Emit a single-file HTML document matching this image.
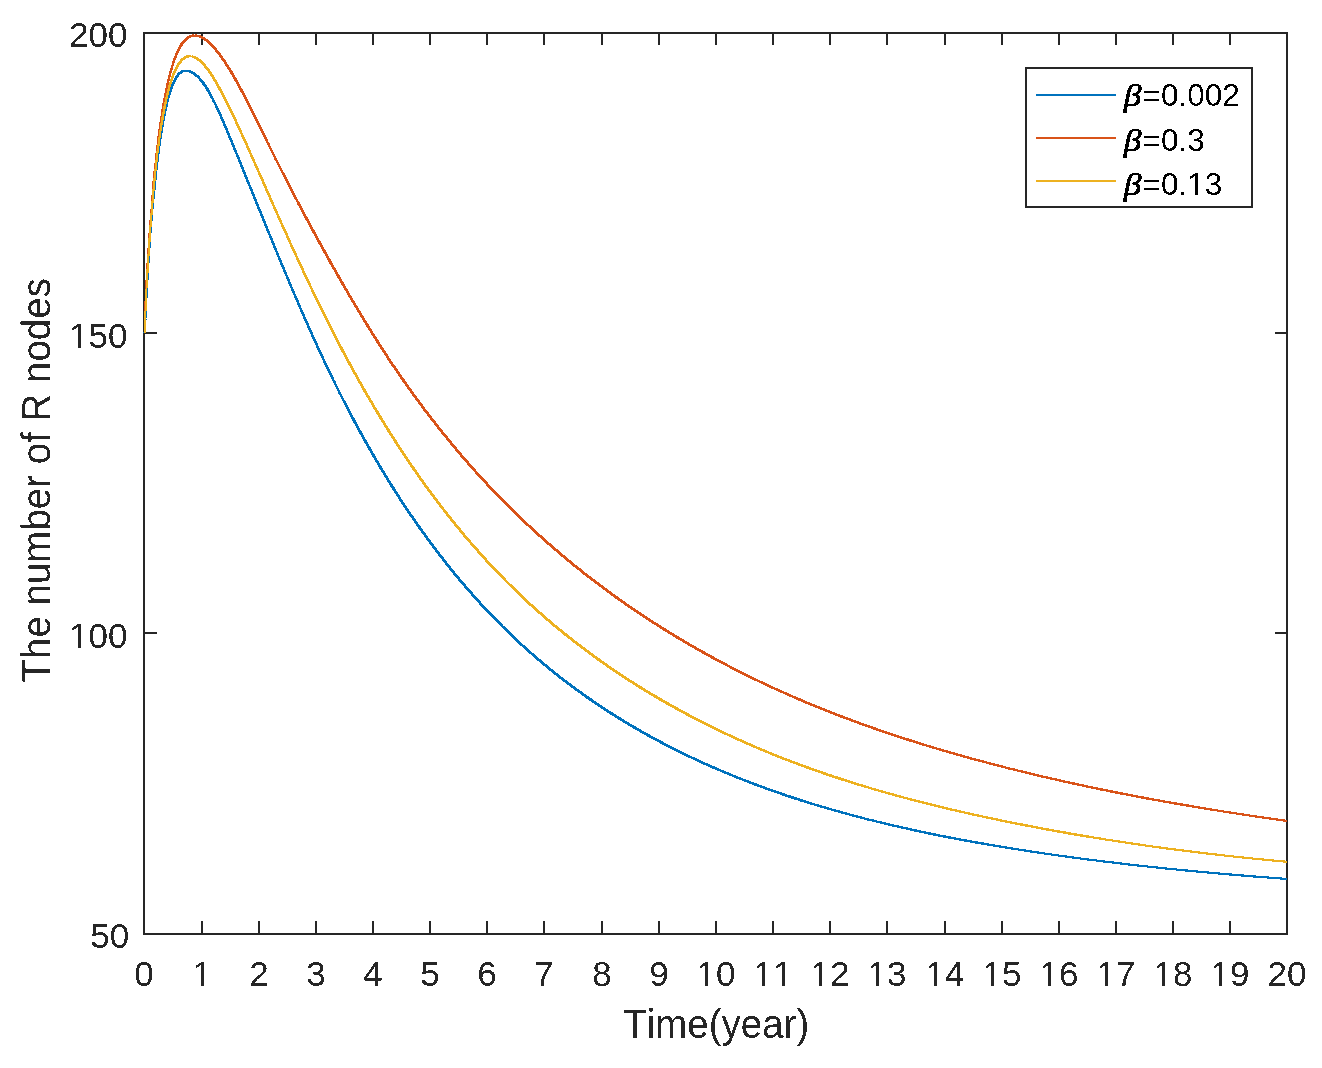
<!DOCTYPE html>
<html><head><meta charset="utf-8"><style>
html,body{margin:0;padding:0;background:#fff;}
body{width:1322px;height:1068px;overflow:hidden;}
svg{display:block;will-change:transform;}
text{font-family:"Liberation Sans",sans-serif;font-kerning:none;font-feature-settings:"kern" 0;}
</style></head><body>
<svg width="1322" height="1068" viewBox="0 0 1322 1068">
<rect x="0" y="0" width="1322" height="1068" fill="#fff"/>

<g fill="#262626" shape-rendering="crispEdges">
<rect x="143" y="32" width="1145" height="2"/>
<rect x="143" y="933" width="1145" height="2"/>
<rect x="143" y="32" width="2" height="903"/>
<rect x="1286" y="32" width="2" height="903"/>
<rect x="201" y="921" width="2" height="13"/>
<rect x="201" y="34" width="2" height="11"/>
<rect x="258" y="921" width="2" height="13"/>
<rect x="258" y="34" width="2" height="11"/>
<rect x="315" y="921" width="2" height="13"/>
<rect x="315" y="34" width="2" height="11"/>
<rect x="372" y="921" width="2" height="13"/>
<rect x="372" y="34" width="2" height="11"/>
<rect x="429" y="921" width="2" height="13"/>
<rect x="429" y="34" width="2" height="11"/>
<rect x="486" y="921" width="2" height="13"/>
<rect x="486" y="34" width="2" height="11"/>
<rect x="543" y="921" width="2" height="13"/>
<rect x="543" y="34" width="2" height="11"/>
<rect x="601" y="921" width="2" height="13"/>
<rect x="601" y="34" width="2" height="11"/>
<rect x="658" y="921" width="2" height="13"/>
<rect x="658" y="34" width="2" height="11"/>
<rect x="715" y="921" width="2" height="13"/>
<rect x="715" y="34" width="2" height="11"/>
<rect x="772" y="921" width="2" height="13"/>
<rect x="772" y="34" width="2" height="11"/>
<rect x="829" y="921" width="2" height="13"/>
<rect x="829" y="34" width="2" height="11"/>
<rect x="886" y="921" width="2" height="13"/>
<rect x="886" y="34" width="2" height="11"/>
<rect x="944" y="921" width="2" height="13"/>
<rect x="944" y="34" width="2" height="11"/>
<rect x="1001" y="921" width="2" height="13"/>
<rect x="1001" y="34" width="2" height="11"/>
<rect x="1058" y="921" width="2" height="13"/>
<rect x="1058" y="34" width="2" height="11"/>
<rect x="1115" y="921" width="2" height="13"/>
<rect x="1115" y="34" width="2" height="11"/>
<rect x="1172" y="921" width="2" height="13"/>
<rect x="1172" y="34" width="2" height="11"/>
<rect x="1229" y="921" width="2" height="13"/>
<rect x="1229" y="34" width="2" height="11"/>
<rect x="145" y="632" width="12" height="2"/>
<rect x="1275" y="632" width="11" height="2"/>
<rect x="145" y="332" width="12" height="2"/>
<rect x="1275" y="332" width="11" height="2"/>
</g>
<g fill="none" stroke-linejoin="round" stroke-linecap="butt" shape-rendering="crispEdges">
<g stroke="#0072BD">
<path stroke-width="2.0" d="M146.0,309.0 146.0,307.8 146.1,306.6 146.1,305.4 146.2,304.2 146.3,303.0 146.3,301.8 146.4,300.6 146.4,299.4 146.5,298.2 146.5,297.0 146.6,295.8 146.6,294.6 146.7,293.4 146.7,292.2 146.8,291.0 146.9,289.8 146.9,288.6M186.5,70.7 187.7,70.8"/>
<path stroke-width="2.2" d="M144.5,333.0 144.6,331.8 144.7,330.6 144.7,329.4 144.8,328.2 144.9,327.0 145.0,325.8 145.1,324.6 145.1,323.4 145.2,322.2 145.3,321.0 145.4,319.8 145.4,318.6 145.5,317.4 145.6,316.2 145.6,315.0 145.7,313.8 145.8,312.6 145.8,311.4 145.9,310.2 146.0,309.0M146.9,288.6 147.0,287.4 147.0,286.2 147.1,285.0 147.2,283.8 147.2,282.6 147.3,281.4 147.4,280.2 147.4,279.0 147.5,277.8 147.6,276.6 147.7,275.4 147.7,274.2 147.8,273.0 147.9,271.8 147.9,270.6 148.0,269.4 148.1,268.2 148.2,267.0 148.2,265.8 148.3,264.6 148.4,263.4 148.5,262.2 148.5,261.0 148.6,259.8 148.7,258.6 148.8,257.4 148.9,256.2 148.9,255.0 149.0,253.9 149.1,252.7 149.2,251.5 149.2,250.3 149.3,249.1 149.4,247.9 149.5,246.7 149.6,245.5 149.7,244.3 149.7,243.1 149.8,241.9 149.9,240.7 150.0,239.5 150.1,238.3 150.2,237.1 150.2,235.9 150.3,234.7 150.4,233.5 150.5,232.3 150.6,231.1 150.7,229.9 150.8,228.7 150.9,227.5 151.0,226.3 151.1,225.1 151.2,223.9 151.3,222.7 151.4,221.5 151.5,220.3 151.5,219.1 151.6,217.9 151.7,216.7 151.8,215.5 151.9,214.3 152.1,213.1 152.2,211.9 152.3,210.7 152.4,209.5 152.5,208.3 152.6,207.1 152.7,205.9 152.8,204.7 152.9,203.6 153.0,202.4 153.2,201.2 153.3,200.0 153.4,198.8 153.6,197.6 153.7,196.4 153.9,195.2 154.0,194.0 154.2,192.8 154.3,191.6 154.4,190.4 154.6,189.2 154.7,188.0 154.8,186.8 154.9,185.6 155.0,184.4 155.1,183.3 155.2,182.1 155.3,180.9 155.4,179.7 155.6,178.5 155.7,177.3 155.8,176.1 155.9,174.9 156.1,173.7 156.2,172.5 156.3,171.3 156.4,170.1 156.6,168.9 156.7,167.7 156.8,166.5 157.0,165.3 157.1,164.1 157.3,162.9 157.4,161.8 157.6,160.6 157.7,159.4 157.9,158.2 158.0,157.0 158.2,155.8 158.3,154.6 158.5,153.4 158.6,152.2 158.8,151.0 158.9,149.8 159.1,148.6 159.3,147.5 159.4,146.3 159.6,145.1 159.8,143.9 159.9,142.7 160.1,141.5 160.3,140.3 160.4,139.1 160.6,137.9 160.8,136.8 161.0,135.6 161.2,134.4 161.3,133.2 161.5,132.0 161.7,130.8 161.9,129.6 162.1,128.5 162.3,127.3M185.3,70.7 186.5,70.7M1001.7,846.8 1002.9,847.0 1004.1,847.2 1005.3,847.4 1006.5,847.6 1007.6,847.8 1008.8,848.0 1010.0,848.2 1011.2,848.4 1012.4,848.6 1013.6,848.8 1014.8,849.0 1015.9,849.1 1017.1,849.3 1018.3,849.5 1019.5,849.7 1020.7,849.9 1021.9,850.1 1023.1,850.3 1024.2,850.4 1025.4,850.6 1026.6,850.8 1027.8,851.0 1029.0,851.2 1030.2,851.4 1031.4,851.5 1032.6,851.7 1033.7,851.9 1034.9,852.1 1036.1,852.3 1037.3,852.4 1038.5,852.6 1039.7,852.8 1040.9,853.0 1042.1,853.1 1043.3,853.3 1044.4,853.5 1045.6,853.7 1046.8,853.8 1048.0,854.0 1049.2,854.2 1050.4,854.3 1051.6,854.5 1052.8,854.7 1054.0,854.9 1055.1,855.0 1056.3,855.2 1057.5,855.4 1058.7,855.5 1059.9,855.7 1061.1,855.9 1062.3,856.0 1063.5,856.2 1064.7,856.4 1065.8,856.5 1067.0,856.7 1068.2,856.8 1069.4,857.0 1070.6,857.2 1071.8,857.3 1073.0,857.5 1074.2,857.7 1075.4,857.8 1076.6,858.0 1077.8,858.1 1078.9,858.3 1080.1,858.4 1081.3,858.6 1082.5,858.8 1083.7,858.9 1084.9,859.1 1086.1,859.2 1087.3,859.4 1088.5,859.5 1089.7,859.7 1090.9,859.8 1092.0,860.0 1093.2,860.1 1094.4,860.3 1095.6,860.4 1096.8,860.6 1098.0,860.7 1099.2,860.9 1100.4,861.0 1101.6,861.2 1102.8,861.3 1104.0,861.5 1105.2,861.6 1106.3,861.8 1107.5,861.9 1108.7,862.1 1109.9,862.2 1111.1,862.3 1112.3,862.5 1113.5,862.6 1114.7,862.8 1115.9,862.9 1117.1,863.1 1118.3,863.2 1119.5,863.3 1120.7,863.5 1121.9,863.6 1123.0,863.8 1124.2,863.9 1125.4,864.0 1126.6,864.2 1127.8,864.3 1129.0,864.5 1130.2,864.6 1131.4,864.7 1132.6,864.9 1133.8,865.0 1135.0,865.1 1136.2,865.3 1137.4,865.4 1138.6,865.5 1139.8,865.7 1141.0,865.8 1142.1,865.9 1143.3,866.1 1144.5,866.2 1145.7,866.3 1146.9,866.4 1148.1,866.6 1149.3,866.7 1150.5,866.8 1151.7,867.0 1152.9,867.1 1154.1,867.2 1155.3,867.3 1156.5,867.5 1157.7,867.6 1158.9,867.7 1160.1,867.8 1161.3,868.0 1162.5,868.1 1163.6,868.2 1164.8,868.3 1166.0,868.5 1167.2,868.6 1168.4,868.7 1169.6,868.8 1170.8,869.0 1172.0,869.1 1173.2,869.2 1174.4,869.3 1175.6,869.4 1176.8,869.6 1178.0,869.7 1179.2,869.8 1180.4,869.9 1181.6,870.0 1182.8,870.1 1184.0,870.3 1185.2,870.4 1186.4,870.5 1187.6,870.6 1188.7,870.7 1189.9,870.8 1191.1,871.0 1192.3,871.1 1193.5,871.2 1194.7,871.3 1195.9,871.4 1197.1,871.5 1198.3,871.6 1199.5,871.7 1200.7,871.9 1201.9,872.0 1203.1,872.1 1204.3,872.2 1205.5,872.3 1206.7,872.4 1207.9,872.5 1209.1,872.6 1210.3,872.7 1211.5,872.8 1212.7,872.9 1213.9,873.1 1215.1,873.2 1216.3,873.3 1217.5,873.4 1218.6,873.5 1219.8,873.6 1221.0,873.7 1222.2,873.8 1223.4,873.9 1224.6,874.0 1225.8,874.1 1227.0,874.2 1228.2,874.3 1229.4,874.4 1230.6,874.5 1231.8,874.6 1233.0,874.7 1234.2,874.8 1235.4,874.9 1236.6,875.0 1237.8,875.1 1239.0,875.2 1240.2,875.3 1241.4,875.4 1242.6,875.5 1243.8,875.6 1245.0,875.7 1246.2,875.8 1247.4,875.9 1248.6,876.0 1249.8,876.1 1251.0,876.2 1252.2,876.3 1253.4,876.4 1254.6,876.5 1255.8,876.6 1257.0,876.7 1258.2,876.8 1259.4,876.9 1260.5,877.0 1261.7,877.1 1262.9,877.1 1264.1,877.2 1265.3,877.3 1266.5,877.4 1267.7,877.5 1268.9,877.6 1270.1,877.7 1271.3,877.8 1272.5,877.9 1273.7,878.0 1274.9,878.1 1276.1,878.1 1277.3,878.2 1278.5,878.3 1279.7,878.4 1280.9,878.5 1282.1,878.6 1283.3,878.7 1284.5,878.8 1285.7,878.9 1286.9,878.9"/>
<path stroke-width="2.4" d="M162.3,127.3 162.5,126.1 162.7,124.9 162.9,123.7 163.1,122.5 163.3,121.3 163.5,120.2 163.7,119.0 164.0,117.8 164.2,116.6 164.4,115.4 164.6,114.3 164.9,113.1 165.1,111.9 165.4,110.7 165.6,109.6 165.9,108.4 166.1,107.2 166.4,106.0 166.7,104.9 166.9,103.7 167.2,102.5 167.5,101.4 167.8,100.2 168.1,99.0 168.4,97.9 168.7,96.7 169.0,95.6 169.4,94.4 169.7,93.3 170.1,92.1M184.1,70.9 185.3,70.7M187.7,70.8 188.8,71.0 190.0,71.4M812.1,803.7 813.2,804.1 814.4,804.4 815.5,804.8 816.7,805.1 817.8,805.5 819.0,805.8 820.1,806.2 821.3,806.5 822.4,806.9 823.6,807.2 824.7,807.5 825.9,807.9 827.1,808.2 828.2,808.6 829.4,808.9 830.5,809.2 831.7,809.6 832.8,809.9 834.0,810.2 835.1,810.5 836.3,810.9 837.4,811.2 838.6,811.5 839.8,811.8 840.9,812.2 842.1,812.5 843.2,812.8 844.4,813.1 845.5,813.4 846.7,813.8 847.9,814.1 849.0,814.4 850.2,814.7 851.3,815.0 852.5,815.3 853.7,815.6 854.8,815.9 856.0,816.3 857.2,816.6 858.3,816.9 859.5,817.2 860.6,817.5 861.8,817.8 863.0,818.1 864.1,818.4 865.3,818.7 866.5,819.0 867.6,819.3 868.8,819.6 869.9,819.9 871.1,820.1 872.3,820.4 873.4,820.7 874.6,821.0 875.8,821.3 876.9,821.6 878.1,821.9 879.3,822.2 880.4,822.5 881.6,822.7 882.8,823.0 883.9,823.3 885.1,823.6 886.3,823.9 887.4,824.1 888.6,824.4 889.8,824.7 891.0,825.0 892.1,825.2 893.3,825.5 894.5,825.8 895.6,826.1 896.8,826.3 898.0,826.6 899.1,826.9 900.3,827.1 901.5,827.4 902.7,827.7 903.8,827.9 905.0,828.2 906.2,828.4 907.4,828.7 908.5,829.0 909.7,829.2 910.9,829.5 912.0,829.7 913.2,830.0 914.4,830.3 915.6,830.5 916.7,830.8 917.9,831.0 919.1,831.3 920.3,831.5 921.4,831.8 922.6,832.0 923.8,832.3 925.0,832.5 926.1,832.8 927.3,833.0 928.5,833.3 929.7,833.5 930.8,833.7 932.0,834.0 933.2,834.2 934.4,834.5 935.6,834.7 936.7,834.9 937.9,835.2 939.1,835.4 940.3,835.7 941.4,835.9 942.6,836.1 943.8,836.4 945.0,836.6 946.2,836.8 947.3,837.1 948.5,837.3 949.7,837.5 950.9,837.7 952.0,838.0 953.2,838.2 954.4,838.4 955.6,838.6 956.8,838.9 957.9,839.1 959.1,839.3 960.3,839.5 961.5,839.8 962.7,840.0 963.9,840.2 965.0,840.4 966.2,840.6 967.4,840.9 968.6,841.1 969.8,841.3 970.9,841.5 972.1,841.7 973.3,841.9 974.5,842.1 975.7,842.4 976.9,842.6 978.0,842.8 979.2,843.0 980.4,843.2 981.6,843.4 982.8,843.6 983.9,843.8 985.1,844.0 986.3,844.2 987.5,844.4 988.7,844.6 989.9,844.8 991.0,845.0 992.2,845.2 993.4,845.4 994.6,845.6 995.8,845.8 997.0,846.0 998.2,846.2 999.3,846.4 1000.5,846.6 1001.7,846.8"/>
<path stroke-width="2.6" d="M170.1,92.1 170.4,91.0 170.8,89.8 171.2,88.7 171.6,87.6 172.0,86.4 172.5,85.3 172.9,84.2 173.4,83.1 173.9,82.0 174.4,80.9 174.9,79.8M182.9,71.2 184.1,70.9M190.0,71.4 191.1,71.9 192.2,72.4M212.0,97.6 212.6,98.6 213.1,99.7 213.6,100.8 214.2,101.9 214.7,102.9 215.2,104.0 215.8,105.1 216.3,106.2 216.8,107.3 217.3,108.4 217.8,109.4 218.3,110.5 218.8,111.6 219.3,112.7 219.8,113.8 220.3,114.9 220.8,116.0 221.2,117.1 221.7,118.2 222.2,119.3 222.7,120.4 223.2,121.5 223.6,122.6 224.1,123.7 224.6,124.8 225.1,125.9 225.5,127.0 226.0,128.1 226.5,129.3 226.9,130.4 227.4,131.5 227.9,132.6 228.3,133.7 228.8,134.8 229.2,135.9 229.7,137.0 230.2,138.1 230.6,139.2 231.1,140.3 231.5,141.5 232.0,142.6 232.5,143.7 232.9,144.8 233.4,145.9 233.8,147.0 234.3,148.1 234.7,149.2 235.2,150.3 235.6,151.5 236.1,152.6 236.6,153.7 237.0,154.8 237.5,155.9 237.9,157.0 238.4,158.1 238.8,159.2 239.3,160.4 239.7,161.5 240.2,162.6 240.6,163.7 241.1,164.8 241.5,165.9 242.0,167.0 242.5,168.1 242.9,169.2 243.4,170.4 243.8,171.5 244.3,172.6 244.7,173.7 245.2,174.8 245.6,175.9 246.1,177.0 246.5,178.1 247.0,179.3 247.4,180.4 247.9,181.5 248.3,182.6 248.8,183.7 249.2,184.8 249.7,185.9 250.1,187.1 250.6,188.2 251.1,189.3 251.5,190.4 252.0,191.5 252.4,192.6 252.9,193.7 253.3,194.8 253.8,196.0 254.2,197.1 254.7,198.2 255.1,199.3 255.6,200.4 256.0,201.5 256.5,202.6 256.9,203.7 257.4,204.9 257.8,206.0 258.3,207.1 258.7,208.2 259.2,209.3 259.7,210.4 260.1,211.5 260.6,212.6 261.0,213.8 261.5,214.9 261.9,216.0 262.4,217.1 262.8,218.2 263.3,219.3 263.7,220.4 264.2,221.5 264.6,222.7 265.1,223.8 265.6,224.9 266.0,226.0 266.5,227.1 266.9,228.2 267.4,229.3 267.8,230.4 268.3,231.5 268.7,232.7 269.2,233.8 269.7,234.9 270.1,236.0 270.6,237.1 271.0,238.2 271.5,239.3 271.9,240.4 272.4,241.5 272.8,242.7 273.3,243.8 273.8,244.9 274.2,246.0 274.7,247.1 275.1,248.2 275.6,249.3 276.0,250.4 276.5,251.5 277.0,252.7 277.4,253.8 277.9,254.9 278.3,256.0 278.8,257.1 279.3,258.2 279.7,259.3 280.2,260.4 280.6,261.5 281.1,262.6 281.6,263.7 282.0,264.9 282.5,266.0 282.9,267.1 283.4,268.2 283.9,269.3 284.3,270.4 284.8,271.5 285.3,272.6 285.7,273.7 286.2,274.8 286.7,275.9 287.1,277.0 287.6,278.2 288.1,279.3 288.5,280.4 289.0,281.5 289.5,282.6 289.9,283.7 290.4,284.8 290.9,285.9 291.3,287.0 291.8,288.1 292.3,289.2 292.7,290.3 293.2,291.4 293.7,292.5 294.1,293.6 294.6,294.7 295.1,295.9 295.6,297.0 296.0,298.1 296.5,299.2 297.0,300.3 297.5,301.4 297.9,302.5 298.4,303.6 298.9,304.7 299.4,305.8 299.8,306.9 300.3,308.0 300.8,309.1 301.3,310.2 301.8,311.3 302.2,312.4 302.7,313.5 303.2,314.6 303.7,315.7 304.2,316.8 304.6,317.9 305.1,319.0 305.6,320.1 306.1,321.2 306.6,322.3 307.1,323.4 307.5,324.5 308.0,325.6 308.5,326.7 309.0,327.8 309.5,328.9 310.0,330.0 310.5,331.1 311.0,332.2 311.5,333.3 312.0,334.4 312.4,335.5 312.9,336.6 313.4,337.6 313.9,338.7 314.4,339.8 314.9,340.9 315.4,342.0 315.9,343.1 316.4,344.2 316.9,345.3 317.4,346.4 317.9,347.5 318.4,348.6 318.9,349.7 319.4,350.8 319.9,351.8 320.4,352.9 320.9,354.0 321.4,355.1 322.0,356.2 322.5,357.3 323.0,358.4 323.5,359.5 324.0,360.6 324.5,361.6 325.0,362.7 325.5,363.8 326.0,364.9 326.6,366.0 327.1,367.1 327.6,368.2 328.1,369.2 328.6,370.3 329.1,371.4 329.7,372.5 330.2,373.6 330.7,374.7 331.2,375.7 331.8,376.8 332.3,377.9 332.8,379.0 333.3,380.1 333.9,381.1 334.4,382.2 334.9,383.3 335.5,384.4 336.0,385.4 336.5,386.5 337.1,387.6 337.6,388.7 338.1,389.7 338.7,390.8 339.2,391.9 339.7,393.0 340.3,394.0 340.8,395.1 341.4,396.2 341.9,397.3 342.4,398.3 343.0,399.4 343.5,400.5 344.1,401.5 344.6,402.6 345.2,403.7 345.7,404.7 346.3,405.8 346.8,406.9 347.4,407.9 347.9,409.0 348.5,410.1 349.1,411.1 349.6,412.2 350.2,413.3M664.2,743.9 665.3,744.5 666.3,745.0 667.4,745.6 668.5,746.2 669.5,746.7 670.6,747.2 671.7,747.8 672.7,748.3 673.8,748.9 674.9,749.4 676.0,750.0 677.0,750.5 678.1,751.0 679.2,751.6 680.3,752.1 681.3,752.6 682.4,753.2 683.5,753.7 684.6,754.2 685.7,754.7 686.7,755.2 687.8,755.8 688.9,756.3 690.0,756.8 691.1,757.3 692.2,757.8 693.2,758.3 694.3,758.8 695.4,759.4 696.5,759.9 697.6,760.4 698.7,760.9 699.8,761.4 700.9,761.9 702.0,762.4 703.1,762.9 704.2,763.4 705.3,763.9 706.4,764.3 707.4,764.8 708.5,765.3 709.6,765.8 710.7,766.3 711.8,766.8 712.9,767.3 714.0,767.7 715.1,768.2 716.2,768.7 717.4,769.2 718.5,769.6 719.6,770.1 720.7,770.6 721.8,771.1 722.9,771.5 724.0,772.0 725.1,772.5 726.2,772.9 727.3,773.4 728.4,773.8 729.5,774.3 730.6,774.8 731.8,775.2 732.9,775.7 734.0,776.1 735.1,776.6 736.2,777.0 737.3,777.5 738.4,777.9 739.6,778.4 740.7,778.8 741.8,779.2 742.9,779.7 744.0,780.1 745.1,780.6 746.3,781.0 747.4,781.4 748.5,781.9 749.6,782.3 750.7,782.7 751.9,783.1 753.0,783.6 754.1,784.0 755.2,784.4 756.4,784.8 757.5,785.3 758.6,785.7 759.7,786.1 760.9,786.5 762.0,786.9 763.1,787.3 764.3,787.7 765.4,788.2 766.5,788.6 767.6,789.0 768.8,789.4 769.9,789.8 771.0,790.2 772.2,790.6 773.3,791.0 774.4,791.4 775.6,791.8 776.7,792.2 777.8,792.6 779.0,793.0 780.1,793.3 781.2,793.7 782.4,794.1 783.5,794.5 784.7,794.9 785.8,795.3 786.9,795.7 788.1,796.0 789.2,796.4 790.4,796.8 791.5,797.2 792.6,797.6 793.8,797.9 794.9,798.3 796.1,798.7 797.2,799.0 798.3,799.4 799.5,799.8 800.6,800.2 801.8,800.5 802.9,800.9 804.1,801.2 805.2,801.6 806.4,802.0 807.5,802.3 808.7,802.7 809.8,803.0 810.9,803.4 812.1,803.7"/>
<path stroke-width="2.8" d="M174.9,79.8 175.5,78.8 176.1,77.8 176.8,76.7 177.5,75.8 178.2,74.8 179.0,73.9 179.9,73.1 180.8,72.4 181.9,71.7 182.9,71.2M192.2,72.4 193.2,73.0 194.2,73.7 195.2,74.4 196.1,75.2 197.0,76.0 197.9,76.8 198.7,77.6 199.5,78.5 200.3,79.4 201.1,80.3 201.9,81.3 202.6,82.2 203.3,83.2 204.0,84.2 204.7,85.1 205.4,86.1 206.0,87.1 206.7,88.2 207.3,89.2 207.9,90.2 208.5,91.2 209.1,92.3 209.7,93.3 210.3,94.4 210.9,95.4 211.4,96.5 212.0,97.6M350.2,413.3 350.7,414.3 351.3,415.4 351.8,416.5 352.4,417.5 353.0,418.6 353.5,419.6 354.1,420.7 354.7,421.8 355.2,422.8 355.8,423.9 356.4,424.9 356.9,426.0 357.5,427.0 358.1,428.1 358.7,429.2 359.2,430.2 359.8,431.3 360.4,432.3 361.0,433.4 361.6,434.4 362.1,435.5 362.7,436.5 363.3,437.6 363.9,438.6 364.5,439.7 365.1,440.7 365.6,441.8 366.2,442.8 366.8,443.9 367.4,444.9 368.0,446.0 368.6,447.0 369.2,448.0 369.8,449.1 370.4,450.1 371.0,451.2 371.6,452.2 372.2,453.3 372.8,454.3 373.4,455.3 374.0,456.4 374.6,457.4 375.2,458.5 375.8,459.5 376.4,460.5 377.0,461.6 377.6,462.6 378.2,463.6 378.8,464.7 379.5,465.7 380.1,466.7 380.7,467.8 381.3,468.8 381.9,469.8 382.5,470.8 383.2,471.9 383.8,472.9 384.4,473.9 385.0,475.0 385.7,476.0 386.3,477.0 386.9,478.0 387.5,479.1 388.2,480.1 388.8,481.1 389.4,482.1 390.1,483.1 390.7,484.2 391.3,485.2 392.0,486.2 392.6,487.2 393.3,488.2 393.9,489.2 394.6,490.3 395.2,491.3 395.8,492.3 396.5,493.3 397.1,494.3 397.8,495.3 398.4,496.3 399.1,497.3 399.7,498.3 400.4,499.4 401.1,500.4 401.7,501.4 402.4,502.4 403.0,503.4 403.7,504.4 404.4,505.4 405.0,506.4 405.7,507.4 406.4,508.4 407.0,509.4 407.7,510.4 408.4,511.4 409.0,512.4 409.7,513.4 410.4,514.4 411.1,515.3 411.7,516.3 412.4,517.3 413.1,518.3 413.8,519.3 414.5,520.3 415.1,521.3 415.8,522.3 416.5,523.3 417.2,524.2 417.9,525.2 418.6,526.2 419.3,527.2 420.0,528.2 420.7,529.1 421.4,530.1 422.1,531.1 422.8,532.1 423.5,533.1 424.2,534.0 424.9,535.0 425.6,536.0 426.3,537.0 427.0,537.9 427.7,538.9 428.4,539.9 429.1,540.8 429.8,541.8 430.5,542.8 431.3,543.7 432.0,544.7 432.7,545.7 433.4,546.6 434.1,547.6 434.9,548.5 435.6,549.5 436.3,550.4 437.0,551.4 437.8,552.4 438.5,553.3 439.2,554.3 440.0,555.2 440.7,556.2 441.4,557.1 442.2,558.1 442.9,559.0 443.6,560.0 444.4,560.9 445.1,561.9 445.9,562.8 446.6,563.7 447.4,564.7 448.1,565.6 448.9,566.6 449.6,567.5 450.4,568.4 451.1,569.4 451.9,570.3 452.6,571.2 453.4,572.2 454.1,573.1 454.9,574.0 455.7,574.9 456.4,575.9 457.2,576.8 458.0,577.7 458.7,578.6 459.5,579.6 460.3,580.5 461.1,581.4 461.8,582.3 462.6,583.2 463.4,584.2 464.2,585.1 464.9,586.0 465.7,586.9 466.5,587.8 467.3,588.7 468.1,589.6 468.9,590.5 469.7,591.4 470.5,592.3 471.3,593.2 472.0,594.1 472.8,595.0 473.6,595.9 474.4,596.8 475.2,597.7 476.0,598.6 476.8,599.5 477.7,600.4 478.5,601.3 479.3,602.2 480.1,603.1 480.9,604.0 481.7,604.8 482.5,605.7 483.3,606.6 484.1,607.5 485.0,608.4 485.8,609.2 486.6,610.1 487.4,611.0 488.3,611.9 489.1,612.7 489.9,613.6 490.7,614.5 491.6,615.3 492.4,616.2 493.2,617.1 494.1,617.9 494.9,618.8 495.8,619.7 496.6,620.5 497.4,621.4 498.3,622.2 499.1,623.1 500.0,623.9 500.8,624.8 501.7,625.6 502.5,626.5 503.4,627.3 504.2,628.2 505.1,629.0 505.9,629.8 506.8,630.7 507.7,631.5 508.5,632.4 509.4,633.2 510.3,634.0 511.1,634.9 512.0,635.7 512.9,636.5 513.7,637.3 514.6,638.2 515.5,639.0 516.4,639.8 517.2,640.6 518.1,641.4 519.0,642.3 519.9,643.1 520.8,643.9 521.7,644.7 522.5,645.5 523.4,646.3 524.3,647.1 525.2,647.9 526.1,648.7 527.0,649.5 527.9,650.3 528.8,651.1 529.7,651.9 530.6,652.7 531.5,653.5 532.4,654.3 533.3,655.1 534.2,655.9 535.1,656.7 536.0,657.5 536.9,658.2 537.8,659.0 538.8,659.8 539.7,660.6 540.6,661.4 541.5,662.1 542.4,662.9 543.3,663.7 544.3,664.5 545.2,665.2 546.1,666.0 547.0,666.7 548.0,667.5 548.9,668.3 549.8,669.0 550.8,669.8 551.7,670.5 552.6,671.3 553.6,672.1 554.5,672.8 555.5,673.5 556.4,674.3 557.3,675.0 558.3,675.8 559.2,676.5 560.2,677.3 561.1,678.0 562.1,678.7 563.0,679.5 564.0,680.2 564.9,680.9 565.9,681.7 566.8,682.4 567.8,683.1 568.7,683.8 569.7,684.6 570.7,685.3 571.6,686.0 572.6,686.7 573.6,687.4 574.5,688.2 575.5,688.9 576.5,689.6 577.4,690.3 578.4,691.0 579.4,691.7 580.4,692.4 581.3,693.1 582.3,693.8 583.3,694.5 584.3,695.2 585.2,695.9 586.2,696.6 587.2,697.3 588.2,697.9 589.2,698.6 590.2,699.3 591.2,700.0 592.1,700.7 593.1,701.4 594.1,702.0 595.1,702.7 596.1,703.4 597.1,704.1 598.1,704.7 599.1,705.4 600.1,706.1 601.1,706.7 602.1,707.4 603.1,708.1 604.1,708.7 605.1,709.4 606.1,710.0 607.1,710.7 608.1,711.3 609.2,712.0 610.2,712.6 611.2,713.3 612.2,713.9 613.2,714.6 614.2,715.2 615.2,715.9 616.3,716.5 617.3,717.1 618.3,717.8 619.3,718.4 620.3,719.0 621.4,719.7 622.4,720.3 623.4,720.9 624.4,721.5 625.5,722.2 626.5,722.8 627.5,723.4 628.5,724.0 629.6,724.6 630.6,725.2 631.6,725.9 632.7,726.5 633.7,727.1 634.8,727.7 635.8,728.3 636.8,728.9 637.9,729.5 638.9,730.1 640.0,730.7 641.0,731.3 642.0,731.9 643.1,732.5 644.1,733.1 645.2,733.6 646.2,734.2 647.3,734.8 648.3,735.4 649.4,736.0 650.4,736.6 651.5,737.1 652.5,737.7 653.6,738.3 654.6,738.9 655.7,739.4 656.8,740.0 657.8,740.6 658.9,741.1 659.9,741.7 661.0,742.3 662.1,742.8 663.1,743.4 664.2,743.9"/>
</g>
<g stroke="#D95319">
<path stroke-width="2.0" d="M144.5,333.0 144.5,331.8 144.5,330.6 144.6,329.4 144.6,328.2 144.6,327.0 144.6,325.8 144.7,324.6 144.7,323.4 144.7,322.2 144.8,321.0 144.8,319.8 144.8,318.6 144.9,317.4 144.9,316.2 144.9,315.0 145.0,313.8 145.0,312.6 145.1,311.4 145.1,310.2 145.1,309.0 145.2,307.8 145.2,306.6 145.3,305.4 145.3,304.2 145.4,303.0 145.4,301.8 145.5,300.6 145.6,299.4 145.6,298.2 145.7,297.0 145.7,295.8 145.8,294.6 145.9,293.4 145.9,292.2M152.3,200.0 152.3,198.8 152.4,197.6 152.4,196.4 152.5,195.2 152.5,194.0 152.6,192.8M194.2,35.5 195.4,35.5"/>
<path stroke-width="2.2" d="M145.9,292.2 146.0,291.0 146.0,289.8 146.1,288.6 146.2,287.4 146.2,286.2 146.3,285.0 146.4,283.8 146.4,282.6 146.5,281.4 146.6,280.2 146.6,279.0 146.7,277.8 146.8,276.6 146.9,275.4 146.9,274.2 147.0,273.0 147.1,271.8 147.1,270.6 147.2,269.4 147.3,268.2 147.4,267.0 147.4,265.8 147.5,264.6 147.6,263.4 147.7,262.2 147.7,261.0 147.8,259.8 147.9,258.6 148.0,257.4 148.0,256.2 148.1,255.0 148.2,253.8 148.3,252.6 148.4,251.4 148.4,250.2 148.5,249.0 148.6,247.8 148.7,246.6 148.7,245.4 148.8,244.2 148.9,243.1 149.0,241.9 149.1,240.7 149.2,239.5 149.2,238.3 149.3,237.1 149.4,235.9 149.5,234.7 149.6,233.5 149.7,232.3 149.8,231.1 149.9,229.9 150.0,228.7 150.0,227.5 150.1,226.3 150.2,225.1 150.3,223.9 150.4,222.7 150.5,221.5 150.6,220.3 150.7,219.1 150.8,217.9 150.9,216.7 151.0,215.5 151.1,214.3 151.2,213.1 151.3,211.9 151.4,210.7 151.6,209.5 151.7,208.3 151.8,207.1 151.9,205.9 152.0,204.7 152.1,203.5 152.1,202.4 152.2,201.2 152.3,200.0M152.6,192.8 152.7,191.6 152.8,190.4 152.9,189.2 153.0,188.0 153.1,186.8 153.2,185.6 153.3,184.4 153.4,183.2 153.5,182.0 153.7,180.8 153.8,179.6 153.9,178.4 154.0,177.2 154.1,176.0 154.3,174.8 154.4,173.6 154.5,172.4 154.6,171.2 154.8,170.0 154.9,168.8 155.0,167.7 155.2,166.5 155.3,165.3 155.4,164.1 155.6,162.9 155.7,161.7 155.8,160.5 155.9,159.3 156.1,158.1 156.2,156.9 156.3,155.7 156.5,154.5 156.6,153.3 156.7,152.1 156.9,150.9 157.0,149.7 157.1,148.6 157.3,147.4 157.4,146.2 157.6,145.0 157.7,143.8 157.8,142.6 158.0,141.4 158.1,140.2 158.3,139.0 158.4,137.8 158.6,136.6 158.8,135.4 158.9,134.3 159.1,133.1 159.2,131.9 159.4,130.7 159.6,129.5 159.7,128.3 159.9,127.1 160.1,125.9 160.2,124.7 160.4,123.6 160.6,122.4 160.8,121.2 160.9,120.0 161.1,118.8 161.3,117.6 161.5,116.4 161.7,115.2 161.9,114.1 162.1,112.9 162.3,111.7 162.5,110.5M193.0,35.6 194.2,35.5M195.4,35.5 196.6,35.6 197.8,35.9M1202.6,808.1 1203.8,808.3 1205.0,808.5 1206.2,808.7 1207.3,808.9 1208.5,809.1 1209.7,809.3 1210.9,809.5 1212.1,809.7 1213.3,809.9 1214.5,810.1 1215.6,810.3 1216.8,810.4 1218.0,810.6 1219.2,810.8 1220.4,811.0 1221.6,811.2 1222.8,811.4 1223.9,811.6 1225.1,811.8 1226.3,812.0 1227.5,812.1 1228.7,812.3 1229.9,812.5 1231.1,812.7 1232.2,812.9 1233.4,813.1 1234.6,813.2 1235.8,813.4 1237.0,813.6 1238.2,813.8 1239.4,814.0 1240.6,814.2 1241.7,814.3 1242.9,814.5 1244.1,814.7 1245.3,814.9 1246.5,815.1 1247.7,815.2 1248.9,815.4 1250.1,815.6 1251.2,815.8 1252.4,815.9 1253.6,816.1 1254.8,816.3 1256.0,816.5 1257.2,816.6 1258.4,816.8 1259.6,817.0 1260.7,817.2 1261.9,817.3 1263.1,817.5 1264.3,817.7 1265.5,817.9 1266.7,818.0 1267.9,818.2 1269.1,818.4 1270.3,818.5 1271.4,818.7 1272.6,818.9 1273.8,819.1 1275.0,819.2 1276.2,819.4 1277.4,819.6 1278.6,819.7 1279.8,819.9 1281.0,820.1 1282.1,820.2 1283.3,820.4 1284.5,820.6 1285.7,820.7 1286.9,820.9"/>
<path stroke-width="2.4" d="M162.5,110.5 162.7,109.3 162.9,108.1 163.1,107.0 163.3,105.8 163.5,104.6 163.7,103.4 163.9,102.2 164.1,101.0 164.3,99.9 164.6,98.7 164.8,97.5 165.0,96.3 165.3,95.1 165.5,94.0 165.7,92.8 166.0,91.6 166.2,90.4 166.5,89.3 166.7,88.1 167.0,86.9 167.2,85.7 167.5,84.6 167.7,83.4 168.0,82.2 168.3,81.1 168.6,79.9 168.8,78.7 169.1,77.6 169.4,76.4 169.7,75.2 170.0,74.1 170.3,72.9 170.6,71.7 171.0,70.6 171.3,69.4 171.6,68.3 172.0,67.1 172.3,66.0 172.7,64.8M191.8,35.9 193.0,35.6M197.8,35.9 198.9,36.2M924.1,744.8 925.3,745.1 926.4,745.5 927.6,745.8 928.7,746.2 929.9,746.5 931.0,746.9 932.2,747.2 933.3,747.5 934.5,747.9 935.6,748.2 936.8,748.6 937.9,748.9 939.1,749.3 940.2,749.6 941.4,749.9 942.5,750.3 943.7,750.6 944.8,751.0 946.0,751.3 947.1,751.6 948.3,752.0 949.4,752.3 950.6,752.6 951.7,753.0 952.9,753.3 954.1,753.6 955.2,754.0 956.4,754.3 957.5,754.6 958.7,754.9 959.8,755.3 961.0,755.6 962.1,755.9 963.3,756.2 964.5,756.6 965.6,756.9 966.8,757.2 967.9,757.5 969.1,757.8 970.2,758.2 971.4,758.5 972.6,758.8 973.7,759.1 974.9,759.4 976.0,759.7 977.2,760.1 978.3,760.4 979.5,760.7 980.7,761.0 981.8,761.3 983.0,761.6 984.1,761.9 985.3,762.2 986.5,762.5 987.6,762.9 988.8,763.2 990.0,763.5 991.1,763.8 992.3,764.1 993.4,764.4 994.6,764.7 995.8,765.0 996.9,765.3 998.1,765.6 999.3,765.9 1000.4,766.2 1001.6,766.5 1002.7,766.8 1003.9,767.1 1005.1,767.4 1006.2,767.7 1007.4,768.0 1008.6,768.3 1009.7,768.6 1010.9,768.8 1012.1,769.1 1013.2,769.4 1014.4,769.7 1015.6,770.0 1016.7,770.3 1017.9,770.6 1019.0,770.9 1020.2,771.2 1021.4,771.4 1022.5,771.7 1023.7,772.0 1024.9,772.3 1026.0,772.6 1027.2,772.9 1028.4,773.1 1029.6,773.4 1030.7,773.7 1031.9,774.0 1033.1,774.3 1034.2,774.5 1035.4,774.8 1036.6,775.1 1037.7,775.4 1038.9,775.7 1040.1,775.9 1041.2,776.2 1042.4,776.5 1043.6,776.8 1044.7,777.0 1045.9,777.3 1047.1,777.6 1048.3,777.8 1049.4,778.1 1050.6,778.4 1051.8,778.6 1052.9,778.9 1054.1,779.2 1055.3,779.4 1056.4,779.7 1057.6,780.0 1058.8,780.2 1060.0,780.5 1061.1,780.8 1062.3,781.0 1063.5,781.3 1064.6,781.6 1065.8,781.8 1067.0,782.1 1068.2,782.3 1069.3,782.6 1070.5,782.9 1071.7,783.1 1072.9,783.4 1074.0,783.6 1075.2,783.9 1076.4,784.1 1077.5,784.4 1078.7,784.6 1079.9,784.9 1081.1,785.2 1082.2,785.4 1083.4,785.7 1084.6,785.9 1085.8,786.2 1086.9,786.4 1088.1,786.7 1089.3,786.9 1090.5,787.2 1091.6,787.4 1092.8,787.6 1094.0,787.9 1095.2,788.1 1096.3,788.4 1097.5,788.6 1098.7,788.9 1099.9,789.1 1101.0,789.4 1102.2,789.6 1103.4,789.8 1104.6,790.1 1105.8,790.3 1106.9,790.6 1108.1,790.8 1109.3,791.0 1110.5,791.3 1111.6,791.5 1112.8,791.7 1114.0,792.0 1115.2,792.2 1116.3,792.5 1117.5,792.7 1118.7,792.9 1119.9,793.2 1121.1,793.4 1122.2,793.6 1123.4,793.9 1124.6,794.1 1125.8,794.3 1127.0,794.5 1128.1,794.8 1129.3,795.0 1130.5,795.2 1131.7,795.5 1132.8,795.7 1134.0,795.9 1135.2,796.1 1136.4,796.4 1137.6,796.6 1138.7,796.8 1139.9,797.0 1141.1,797.3 1142.3,797.5 1143.5,797.7 1144.6,797.9 1145.8,798.1 1147.0,798.4 1148.2,798.6 1149.4,798.8 1150.6,799.0 1151.7,799.2 1152.9,799.5 1154.1,799.7 1155.3,799.9 1156.5,800.1 1157.6,800.3 1158.8,800.5 1160.0,800.7 1161.2,801.0 1162.4,801.2 1163.5,801.4 1164.7,801.6 1165.9,801.8 1167.1,802.0 1168.3,802.2 1169.5,802.4 1170.6,802.7 1171.8,802.9 1173.0,803.1 1174.2,803.3 1175.4,803.5 1176.6,803.7 1177.7,803.9 1178.9,804.1 1180.1,804.3 1181.3,804.5 1182.5,804.7 1183.7,804.9 1184.8,805.1 1186.0,805.3 1187.2,805.5 1188.4,805.7 1189.6,805.9 1190.8,806.1 1191.9,806.3 1193.1,806.5 1194.3,806.7 1195.5,806.9 1196.7,807.1 1197.9,807.3 1199.0,807.5 1200.2,807.7 1201.4,807.9 1202.6,808.1"/>
<path stroke-width="2.6" d="M172.7,64.8 173.0,63.7 173.4,62.5 173.8,61.4 174.2,60.3 174.6,59.1 175.0,58.0 175.4,56.9 175.8,55.8 176.3,54.6 176.8,53.5 177.2,52.4 177.7,51.3 178.2,50.3 178.8,49.2 179.3,48.1M189.6,36.7 190.7,36.2 191.8,35.9M198.9,36.2 200.1,36.6 201.2,37.1 202.2,37.6M243.5,94.3 244.1,95.4 244.6,96.4 245.2,97.5 245.7,98.6 246.3,99.6 246.8,100.7 247.4,101.8 247.9,102.8 248.5,103.9 249.0,105.0 249.5,106.1 250.1,107.1 250.6,108.2 251.2,109.3 251.7,110.4 252.2,111.4 252.8,112.5 253.3,113.6 253.8,114.7 254.4,115.7 254.9,116.8 255.5,117.9 256.0,119.0 256.5,120.0 257.0,121.1 257.6,122.2 258.1,123.3 258.6,124.3 259.2,125.4 259.7,126.5 260.2,127.6 260.8,128.6 261.3,129.7 261.8,130.8 262.4,131.9 262.9,133.0 263.4,134.0 263.9,135.1 264.5,136.2 265.0,137.3 265.5,138.3 266.1,139.4 266.6,140.5 267.1,141.6 267.6,142.7 268.2,143.7 268.7,144.8 269.2,145.9 269.8,147.0 270.3,148.0 270.8,149.1 271.4,150.2 271.9,151.3 272.4,152.3 273.0,153.4 273.5,154.5 274.0,155.6 274.6,156.6 275.1,157.7 275.6,158.8 276.2,159.9 276.7,160.9 277.3,162.0 277.8,163.1 278.3,164.2 278.9,165.2 279.4,166.3 280.0,167.4 280.5,168.5 281.0,169.5 281.6,170.6 282.1,171.7 282.7,172.7 283.2,173.8 283.8,174.9 284.3,176.0 284.8,177.0 285.4,178.1 285.9,179.2 286.5,180.2 287.0,181.3 287.6,182.4 288.1,183.4 288.7,184.5 289.2,185.6 289.8,186.6 290.3,187.7 290.9,188.8 291.4,189.8 292.0,190.9 292.5,192.0 293.1,193.0 293.6,194.1 294.2,195.2 294.8,196.2 295.3,197.3 295.9,198.4 296.4,199.4 297.0,200.5 297.5,201.6 298.1,202.6M726.2,664.8 727.3,665.4 728.3,665.9 729.4,666.5 730.5,667.0 731.5,667.6 732.6,668.1 733.7,668.7 734.7,669.2 735.8,669.8 736.9,670.3 737.9,670.9 739.0,671.4 740.1,671.9 741.2,672.5 742.2,673.0 743.3,673.6 744.4,674.1 745.5,674.6 746.5,675.2 747.6,675.7 748.7,676.2 749.8,676.8 750.8,677.3 751.9,677.8 753.0,678.3 754.1,678.9 755.2,679.4 756.2,679.9 757.3,680.4 758.4,680.9 759.5,681.5 760.6,682.0 761.7,682.5 762.7,683.0 763.8,683.5 764.9,684.0 766.0,684.5 767.1,685.0 768.2,685.6 769.3,686.1 770.4,686.6 771.5,687.1 772.5,687.6 773.6,688.1 774.7,688.6 775.8,689.1 776.9,689.6 778.0,690.1 779.1,690.6 780.2,691.1 781.3,691.6 782.4,692.0 783.5,692.5 784.6,693.0 785.7,693.5 786.8,694.0 787.9,694.5 789.0,695.0 790.1,695.5 791.2,695.9 792.3,696.4 793.4,696.9 794.5,697.4 795.6,697.8 796.7,698.3 797.8,698.8 798.9,699.3 800.0,699.7 801.1,700.2 802.2,700.7 803.3,701.2 804.4,701.6 805.5,702.1 806.6,702.6 807.7,703.0 808.8,703.5 809.9,703.9 811.1,704.4 812.2,704.9 813.3,705.3 814.4,705.8 815.5,706.2 816.6,706.7 817.7,707.1 818.8,707.6 820.0,708.0 821.1,708.5 822.2,708.9 823.3,709.4 824.4,709.8 825.5,710.3 826.6,710.7 827.8,711.1 828.9,711.6 830.0,712.0 831.1,712.5 832.2,712.9 833.3,713.3 834.5,713.8 835.6,714.2 836.7,714.6 837.8,715.1 838.9,715.5 840.1,715.9 841.2,716.4 842.3,716.8 843.4,717.2 844.6,717.6 845.7,718.1 846.8,718.5 847.9,718.9 849.1,719.3 850.2,719.7 851.3,720.2 852.4,720.6 853.6,721.0 854.7,721.4 855.8,721.8 856.9,722.2 858.1,722.6 859.2,723.1 860.3,723.5 861.5,723.9 862.6,724.3 863.7,724.7 864.8,725.1 866.0,725.5 867.1,725.9 868.2,726.3 869.4,726.7 870.5,727.1 871.6,727.5 872.8,727.9 873.9,728.3 875.0,728.7 876.2,729.1 877.3,729.5 878.4,729.9 879.6,730.3 880.7,730.7 881.9,731.0 883.0,731.4 884.1,731.8 885.3,732.2 886.4,732.6 887.5,733.0 888.7,733.4 889.8,733.7 891.0,734.1 892.1,734.5 893.2,734.9 894.4,735.3 895.5,735.6 896.7,736.0 897.8,736.4 898.9,736.8 900.1,737.1 901.2,737.5 902.4,737.9 903.5,738.3 904.6,738.6 905.8,739.0 906.9,739.4 908.1,739.7 909.2,740.1 910.4,740.5 911.5,740.8 912.7,741.2 913.8,741.5 914.9,741.9 916.1,742.3 917.2,742.6 918.4,743.0 919.5,743.3 920.7,743.7 921.8,744.0 923.0,744.4 924.1,744.8"/>
<path stroke-width="2.8" d="M179.3,48.1 179.9,47.1 180.5,46.0 181.2,45.0 181.8,44.0 182.5,43.0 183.2,42.1 184.0,41.2 184.8,40.3 185.7,39.4 186.6,38.6 187.5,37.9 188.5,37.3 189.6,36.7M202.2,37.6 203.3,38.2 204.3,38.9 205.3,39.6 206.3,40.3 207.2,41.0 208.1,41.8 209.0,42.6 209.9,43.4 210.8,44.2 211.6,45.1 212.5,45.9 213.3,46.8 214.1,47.7 214.9,48.6 215.6,49.5 216.4,50.5 217.2,51.4 217.9,52.3 218.7,53.3 219.4,54.2 220.1,55.2 220.8,56.2 221.5,57.1 222.2,58.1 222.9,59.1 223.6,60.1 224.3,61.1 224.9,62.1 225.6,63.1 226.2,64.1 226.9,65.1 227.5,66.1 228.2,67.1 228.8,68.1 229.5,69.2 230.1,70.2 230.7,71.2 231.3,72.2 231.9,73.3 232.5,74.3 233.1,75.3 233.7,76.4 234.3,77.4 234.9,78.5 235.5,79.5 236.1,80.6 236.7,81.6 237.3,82.7 237.9,83.7 238.4,84.8 239.0,85.8 239.6,86.9 240.1,87.9 240.7,89.0 241.3,90.1 241.8,91.1 242.4,92.2 243.0,93.2 243.5,94.3M298.1,202.6 298.6,203.7 299.2,204.7 299.8,205.8 300.3,206.9 300.9,207.9 301.4,209.0 302.0,210.1 302.6,211.1 303.1,212.2 303.7,213.2 304.3,214.3 304.8,215.4 305.4,216.4 306.0,217.5 306.5,218.5 307.1,219.6 307.7,220.7 308.2,221.7 308.8,222.8 309.4,223.8 309.9,224.9 310.5,226.0 311.1,227.0 311.6,228.1 312.2,229.1 312.8,230.2 313.3,231.2 313.9,232.3 314.5,233.3 315.1,234.4 315.6,235.5 316.2,236.5 316.8,237.6 317.4,238.6 317.9,239.7 318.5,240.7 319.1,241.8 319.7,242.8 320.2,243.9 320.8,244.9 321.4,246.0 322.0,247.0 322.6,248.1 323.1,249.1 323.7,250.2 324.3,251.2 324.9,252.3 325.5,253.3 326.1,254.4 326.6,255.4 327.2,256.5 327.8,257.5 328.4,258.6 329.0,259.6 329.6,260.7 330.1,261.7 330.7,262.8 331.3,263.8 331.9,264.9 332.5,265.9 333.1,267.0 333.7,268.0 334.3,269.1 334.9,270.1 335.5,271.2 336.0,272.2 336.6,273.2 337.2,274.3 337.8,275.3 338.4,276.4 339.0,277.4 339.6,278.5 340.2,279.5 340.8,280.5 341.4,281.6 342.0,282.6 342.6,283.7 343.2,284.7 343.8,285.7 344.4,286.8 345.0,287.8 345.6,288.9 346.2,289.9 346.8,290.9 347.4,292.0 348.0,293.0 348.6,294.1 349.2,295.1 349.8,296.1 350.5,297.2 351.1,298.2 351.7,299.2 352.3,300.3 352.9,301.3 353.5,302.3 354.1,303.4 354.7,304.4 355.3,305.4 356.0,306.5 356.6,307.5 357.2,308.5 357.8,309.6 358.4,310.6 359.0,311.6 359.7,312.6 360.3,313.7 360.9,314.7 361.5,315.7 362.1,316.8 362.8,317.8 363.4,318.8 364.0,319.8 364.6,320.9 365.3,321.9 365.9,322.9 366.5,323.9 367.2,325.0 367.8,326.0 368.4,327.0 369.0,328.0 369.7,329.0 370.3,330.1 371.0,331.1 371.6,332.1 372.2,333.1 372.9,334.1 373.5,335.1 374.1,336.2 374.8,337.2 375.4,338.2 376.1,339.2 376.7,340.2 377.3,341.2 378.0,342.3 378.6,343.3 379.3,344.3 379.9,345.3 380.6,346.3 381.2,347.3 381.9,348.3 382.5,349.3 383.2,350.3 383.8,351.3 384.5,352.3 385.2,353.4 385.8,354.4 386.5,355.4 387.1,356.4 387.8,357.4 388.4,358.4 389.1,359.4 389.8,360.4 390.4,361.4 391.1,362.4 391.8,363.4 392.4,364.4 393.1,365.4 393.8,366.4 394.5,367.4 395.1,368.4 395.8,369.3 396.5,370.3 397.1,371.3 397.8,372.3 398.5,373.3 399.2,374.3 399.9,375.3 400.5,376.3 401.2,377.3 401.9,378.3 402.6,379.2 403.3,380.2 404.0,381.2 404.7,382.2 405.4,383.2 406.0,384.2 406.7,385.1 407.4,386.1 408.1,387.1 408.8,388.1 409.5,389.1 410.2,390.0 410.9,391.0 411.6,392.0 412.3,393.0 413.0,393.9 413.7,394.9 414.4,395.9 415.1,396.9 415.8,397.8 416.6,398.8 417.3,399.8 418.0,400.7 418.7,401.7 419.4,402.7 420.1,403.6 420.8,404.6 421.6,405.6 422.3,406.5 423.0,407.5 423.7,408.4 424.4,409.4 425.2,410.4 425.9,411.3 426.6,412.3 427.3,413.2 428.1,414.2 428.8,415.1 429.5,416.1 430.3,417.0 431.0,418.0 431.7,418.9 432.5,419.9 433.2,420.8 433.9,421.8 434.7,422.7 435.4,423.7 436.2,424.6 436.9,425.6 437.6,426.5 438.4,427.5 439.1,428.4 439.9,429.3 440.6,430.3 441.4,431.2 442.1,432.1 442.9,433.1 443.6,434.0 444.4,435.0 445.1,435.9 445.9,436.8 446.7,437.7 447.4,438.7 448.2,439.6 448.9,440.5 449.7,441.5 450.5,442.4 451.2,443.3 452.0,444.2 452.8,445.2 453.5,446.1 454.3,447.0 455.1,447.9 455.8,448.8 456.6,449.8 457.4,450.7 458.2,451.6 458.9,452.5 459.7,453.4 460.5,454.3 461.3,455.3 462.1,456.2 462.9,457.1 463.6,458.0 464.4,458.9 465.2,459.8 466.0,460.7 466.8,461.6 467.6,462.5 468.4,463.4 469.2,464.3 470.0,465.2 470.8,466.1 471.5,467.0 472.3,467.9 473.1,468.8 473.9,469.7 474.7,470.6 475.5,471.5 476.4,472.4 477.2,473.3 478.0,474.2 478.8,475.1 479.6,475.9 480.4,476.8 481.2,477.7 482.0,478.6 482.8,479.5 483.6,480.4 484.5,481.3 485.3,482.1 486.1,483.0 486.9,483.9 487.7,484.8 488.6,485.6 489.4,486.5 490.2,487.4 491.0,488.3 491.9,489.1 492.7,490.0 493.5,490.9 494.3,491.7 495.2,492.6 496.0,493.5 496.8,494.3 497.7,495.2 498.5,496.1 499.3,496.9 500.2,497.8 501.0,498.6 501.9,499.5 502.7,500.4 503.5,501.2 504.4,502.1 505.2,502.9 506.1,503.8 506.9,504.6 507.8,505.5 508.6,506.3 509.5,507.2 510.3,508.0 511.2,508.9 512.0,509.7 512.9,510.5 513.8,511.4 514.6,512.2 515.5,513.1 516.3,513.9 517.2,514.7 518.1,515.6 518.9,516.4 519.8,517.2 520.7,518.1 521.5,518.9 522.4,519.7 523.3,520.6 524.1,521.4 525.0,522.2 525.9,523.0 526.8,523.9 527.6,524.7 528.5,525.5 529.4,526.3 530.3,527.1 531.1,527.9 532.0,528.8 532.9,529.6 533.8,530.4 534.7,531.2 535.6,532.0 536.5,532.8 537.3,533.6 538.2,534.4 539.1,535.2 540.0,536.0 540.9,536.8 541.8,537.6 542.7,538.5 543.6,539.2 544.5,540.0 545.4,540.8 546.3,541.6 547.2,542.4 548.1,543.2 549.0,544.0 549.9,544.8 550.8,545.6 551.7,546.4 552.6,547.2 553.5,548.0 554.4,548.7 555.3,549.5 556.3,550.3 557.2,551.1 558.1,551.9 559.0,552.6 559.9,553.4 560.8,554.2 561.7,555.0 562.7,555.7 563.6,556.5 564.5,557.3 565.4,558.1 566.4,558.8 567.3,559.6 568.2,560.4 569.1,561.1 570.1,561.9 571.0,562.6 571.9,563.4 572.9,564.2 573.8,564.9 574.7,565.7 575.6,566.4 576.6,567.2 577.5,567.9 578.5,568.7 579.4,569.4 580.3,570.2 581.3,570.9 582.2,571.7 583.2,572.4 584.1,573.2 585.0,573.9 586.0,574.6 586.9,575.4 587.9,576.1 588.8,576.9 589.8,577.6 590.7,578.3 591.7,579.1 592.6,579.8 593.6,580.5 594.5,581.3 595.5,582.0 596.5,582.7 597.4,583.4 598.4,584.2 599.3,584.9 600.3,585.6 601.3,586.3 602.2,587.0 603.2,587.8 604.1,588.5 605.1,589.2 606.1,589.9 607.0,590.6 608.0,591.3 609.0,592.0 609.9,592.7 610.9,593.4 611.9,594.2 612.9,594.9 613.8,595.6 614.8,596.3 615.8,597.0 616.8,597.7 617.7,598.4 618.7,599.1 619.7,599.7 620.7,600.4 621.7,601.1 622.6,601.8 623.6,602.5 624.6,603.2 625.6,603.9 626.6,604.6 627.6,605.3 628.6,605.9 629.5,606.6 630.5,607.3 631.5,608.0 632.5,608.7 633.5,609.3 634.5,610.0 635.5,610.7 636.5,611.4 637.5,612.0 638.5,612.7 639.5,613.4 640.5,614.0 641.5,614.7 642.5,615.4 643.5,616.0 644.5,616.7 645.5,617.4 646.5,618.0 647.5,618.7 648.5,619.3 649.5,620.0 650.5,620.6 651.5,621.3 652.5,621.9 653.5,622.6 654.6,623.2 655.6,623.9 656.6,624.5 657.6,625.2 658.6,625.8 659.6,626.5 660.6,627.1 661.7,627.7 662.7,628.4 663.7,629.0 664.7,629.6 665.7,630.3 666.7,630.9 667.8,631.5 668.8,632.2 669.8,632.8 670.8,633.4 671.9,634.1 672.9,634.7 673.9,635.3 674.9,635.9 676.0,636.6 677.0,637.2 678.0,637.8 679.1,638.4 680.1,639.0 681.1,639.6 682.2,640.2 683.2,640.9 684.2,641.5 685.3,642.1 686.3,642.7 687.3,643.3 688.4,643.9 689.4,644.5 690.4,645.1 691.5,645.7 692.5,646.3 693.6,646.9 694.6,647.5 695.6,648.1 696.7,648.7 697.7,649.3 698.8,649.9 699.8,650.5 700.9,651.1 701.9,651.6 703.0,652.2 704.0,652.8 705.1,653.4 706.1,654.0 707.2,654.6 708.2,655.1 709.3,655.7 710.3,656.3 711.4,656.9 712.4,657.4 713.5,658.0 714.5,658.6 715.6,659.2 716.7,659.7 717.7,660.3 718.8,660.9 719.8,661.4 720.9,662.0 722.0,662.6 723.0,663.1 724.1,663.7 725.1,664.2 726.2,664.8"/>
</g>
<g stroke="#EDB120">
<path stroke-width="2.0" d="M144.5,333.0 144.6,331.8 144.6,330.6 144.7,329.4 144.7,328.2 144.8,327.0 144.8,325.8 144.9,324.6 144.9,323.4 145.0,322.2 145.0,321.0 145.1,319.8 145.1,318.6 145.2,317.4 145.2,316.2 145.3,315.0 145.3,313.8 145.4,312.6 145.5,311.4 145.5,310.2 145.6,309.0 145.6,307.8 145.7,306.6 145.7,305.4 145.8,304.2 145.8,303.0 145.9,301.8 145.9,300.6 146.0,299.4 146.0,298.2 146.1,297.0 146.2,295.8 146.2,294.6 146.3,293.4 146.3,292.2 146.4,291.0 146.4,289.8 146.5,288.6 146.6,287.4M190.2,56.2 191.4,56.3"/>
<path stroke-width="2.2" d="M146.6,287.4 146.6,286.2 146.7,285.0 146.8,283.8 146.8,282.6 146.9,281.4 147.0,280.2 147.0,279.0 147.1,277.8 147.2,276.6 147.2,275.4 147.3,274.2 147.4,273.0 147.5,271.8 147.5,270.6 147.6,269.4 147.7,268.2 147.7,267.0 147.8,265.8 147.9,264.6 148.0,263.4 148.0,262.2 148.1,261.0 148.2,259.8 148.3,258.6 148.3,257.4 148.4,256.2 148.5,255.0 148.6,253.8 148.7,252.6 148.7,251.4 148.8,250.2 148.9,249.0 149.0,247.8 149.0,246.6 149.1,245.4 149.2,244.2 149.3,243.0 149.4,241.8 149.5,240.6 149.5,239.4 149.6,238.3 149.7,237.1 149.8,235.9 149.9,234.7 150.0,233.5 150.1,232.3 150.1,231.1 150.2,229.9 150.3,228.7 150.4,227.5 150.5,226.3 150.6,225.1 150.7,223.9 150.8,222.7 150.9,221.5 151.0,220.3 151.1,219.1 151.2,217.9 151.3,216.7 151.4,215.5 151.5,214.3 151.6,213.1 151.7,211.9 151.8,210.7 151.9,209.5 152.0,208.3 152.1,207.1 152.2,205.9 152.3,204.7 152.4,203.5 152.5,202.3 152.6,201.1 152.7,199.9 152.8,198.7 152.9,197.5 153.0,196.3 153.1,195.2 153.2,194.0 153.3,192.8 153.4,191.6 153.5,190.4 153.6,189.2 153.7,188.0 153.8,186.8 154.0,185.6 154.1,184.4 154.2,183.2 154.3,182.0 154.4,180.8 154.5,179.6 154.6,178.4 154.8,177.2 154.9,176.0 155.0,174.8 155.1,173.6 155.2,172.4 155.4,171.2 155.5,170.0 155.6,168.8 155.8,167.7 155.9,166.5 156.0,165.3 156.2,164.1 156.3,162.9 156.4,161.7 156.6,160.5 156.7,159.3 156.8,158.1 157.0,156.9 157.1,155.7 157.3,154.5 157.4,153.3 157.5,152.1 157.7,150.9 157.8,149.8 158.0,148.6 158.1,147.4 158.3,146.2 158.5,145.0 158.6,143.8 158.8,142.6 158.9,141.4 159.1,140.2 159.3,139.0 159.4,137.8 159.6,136.7 159.8,135.5 159.9,134.3 160.1,133.1 160.3,131.9 160.5,130.7 160.7,129.5 160.8,128.3 161.0,127.2 161.2,126.0 161.4,124.8 161.6,123.6 161.8,122.4M189.0,56.3 190.2,56.2M191.4,56.3 192.6,56.6M1090.3,837.0 1091.5,837.2 1092.7,837.4 1093.9,837.6 1095.1,837.8 1096.2,838.0 1097.4,838.1 1098.6,838.3 1099.8,838.5 1101.0,838.7 1102.2,838.9 1103.4,839.1 1104.5,839.3 1105.7,839.5 1106.9,839.7 1108.1,839.9 1109.3,840.0 1110.5,840.2 1111.7,840.4 1112.8,840.6 1114.0,840.8 1115.2,841.0 1116.4,841.2 1117.6,841.3 1118.8,841.5 1120.0,841.7 1121.2,841.9 1122.3,842.1 1123.5,842.2 1124.7,842.4 1125.9,842.6 1127.1,842.8 1128.3,843.0 1129.5,843.1 1130.7,843.3 1131.8,843.5 1133.0,843.7 1134.2,843.8 1135.4,844.0 1136.6,844.2 1137.8,844.4 1139.0,844.5 1140.2,844.7 1141.4,844.9 1142.5,845.0 1143.7,845.2 1144.9,845.4 1146.1,845.6 1147.3,845.7 1148.5,845.9 1149.7,846.1 1150.9,846.2 1152.1,846.4 1153.2,846.6 1154.4,846.7 1155.6,846.9 1156.8,847.1 1158.0,847.2 1159.2,847.4 1160.4,847.5 1161.6,847.7 1162.8,847.9 1164.0,848.0 1165.1,848.2 1166.3,848.4 1167.5,848.5 1168.7,848.7 1169.9,848.8 1171.1,849.0 1172.3,849.1 1173.5,849.3 1174.7,849.5 1175.9,849.6 1177.1,849.8 1178.2,849.9 1179.4,850.1 1180.6,850.2 1181.8,850.4 1183.0,850.5 1184.2,850.7 1185.4,850.8 1186.6,851.0 1187.8,851.1 1189.0,851.3 1190.2,851.4 1191.4,851.6 1192.5,851.7 1193.7,851.9 1194.9,852.0 1196.1,852.2 1197.3,852.3 1198.5,852.5 1199.7,852.6 1200.9,852.8 1202.1,852.9 1203.3,853.0 1204.5,853.2 1205.7,853.3 1206.9,853.5 1208.0,853.6 1209.2,853.7 1210.4,853.9 1211.6,854.0 1212.8,854.2 1214.0,854.3 1215.2,854.4 1216.4,854.6 1217.6,854.7 1218.8,854.9 1220.0,855.0 1221.2,855.1 1222.4,855.3 1223.6,855.4 1224.8,855.5 1225.9,855.7 1227.1,855.8 1228.3,855.9 1229.5,856.1 1230.7,856.2 1231.9,856.3 1233.1,856.4 1234.3,856.6 1235.5,856.7 1236.7,856.8 1237.9,857.0 1239.1,857.1 1240.3,857.2 1241.5,857.3 1242.7,857.5 1243.9,857.6 1245.1,857.7 1246.3,857.8 1247.4,858.0 1248.6,858.1 1249.8,858.2 1251.0,858.3 1252.2,858.5 1253.4,858.6 1254.6,858.7 1255.8,858.8 1257.0,858.9 1258.2,859.1 1259.4,859.2 1260.6,859.3 1261.8,859.4 1263.0,859.5 1264.2,859.7 1265.4,859.8 1266.6,859.9 1267.8,860.0 1269.0,860.1 1270.2,860.2 1271.4,860.3 1272.5,860.5 1273.7,860.6 1274.9,860.7 1276.1,860.8 1277.3,860.9 1278.5,861.0 1279.7,861.1 1280.9,861.2 1282.1,861.3 1283.3,861.5 1284.5,861.6 1285.7,861.7 1286.9,861.8"/>
<path stroke-width="2.4" d="M161.8,122.4 162.0,121.2 162.2,120.0 162.4,118.9 162.6,117.7 162.8,116.5 163.0,115.3 163.2,114.1 163.5,113.0 163.7,111.8 163.9,110.6 164.1,109.4 164.4,108.2 164.6,107.1 164.8,105.9 165.1,104.7 165.3,103.5 165.6,102.4 165.8,101.2 166.1,100.0 166.4,98.8 166.6,97.7 166.9,96.5 167.2,95.3 167.5,94.2 167.8,93.0 168.1,91.8 168.4,90.7 168.7,89.5 169.0,88.3 169.3,87.2 169.6,86.0 170.0,84.9 170.3,83.7 170.7,82.6M187.8,56.5 189.0,56.3M192.6,56.6 193.7,57.0M858.5,784.5 859.7,784.9 860.8,785.2 862.0,785.6 863.1,785.9 864.3,786.3 865.4,786.6 866.6,787.0 867.7,787.3 868.9,787.7 870.0,788.0 871.2,788.4 872.3,788.7 873.5,789.0 874.6,789.4 875.8,789.7 876.9,790.1 878.1,790.4 879.2,790.7 880.4,791.1 881.5,791.4 882.7,791.7 883.9,792.0 885.0,792.4 886.2,792.7 887.3,793.0 888.5,793.4 889.6,793.7 890.8,794.0 891.9,794.3 893.1,794.6 894.3,795.0 895.4,795.3 896.6,795.6 897.7,795.9 898.9,796.2 900.1,796.5 901.2,796.9 902.4,797.2 903.5,797.5 904.7,797.8 905.9,798.1 907.0,798.4 908.2,798.7 909.3,799.0 910.5,799.3 911.7,799.6 912.8,799.9 914.0,800.3 915.1,800.6 916.3,800.9 917.5,801.2 918.6,801.5 919.8,801.8 921.0,802.1 922.1,802.3 923.3,802.6 924.5,802.9 925.6,803.2 926.8,803.5 927.9,803.8 929.1,804.1 930.3,804.4 931.4,804.7 932.6,805.0 933.8,805.3 934.9,805.6 936.1,805.8 937.3,806.1 938.4,806.4 939.6,806.7 940.8,807.0 941.9,807.3 943.1,807.5 944.3,807.8 945.5,808.1 946.6,808.4 947.8,808.7 949.0,808.9 950.1,809.2 951.3,809.5 952.5,809.8 953.6,810.0 954.8,810.3 956.0,810.6 957.1,810.8 958.3,811.1 959.5,811.4 960.7,811.6 961.8,811.9 963.0,812.2 964.2,812.4 965.3,812.7 966.5,813.0 967.7,813.2 968.9,813.5 970.0,813.8 971.2,814.0 972.4,814.3 973.5,814.5 974.7,814.8 975.9,815.1 977.1,815.3 978.2,815.6 979.4,815.8 980.6,816.1 981.8,816.3 982.9,816.6 984.1,816.9 985.3,817.1 986.5,817.4 987.6,817.6 988.8,817.9 990.0,818.1 991.2,818.4 992.3,818.6 993.5,818.9 994.7,819.1 995.9,819.3 997.0,819.6 998.2,819.8 999.4,820.1 1000.6,820.3 1001.7,820.6 1002.9,820.8 1004.1,821.1 1005.3,821.3 1006.4,821.5 1007.6,821.8 1008.8,822.0 1010.0,822.2 1011.2,822.5 1012.3,822.7 1013.5,823.0 1014.7,823.2 1015.9,823.4 1017.0,823.7 1018.2,823.9 1019.4,824.1 1020.6,824.4 1021.8,824.6 1022.9,824.8 1024.1,825.1 1025.3,825.3 1026.5,825.5 1027.7,825.7 1028.8,826.0 1030.0,826.2 1031.2,826.4 1032.4,826.7 1033.5,826.9 1034.7,827.1 1035.9,827.3 1037.1,827.6 1038.3,827.8 1039.5,828.0 1040.6,828.2 1041.8,828.4 1043.0,828.7 1044.2,828.9 1045.4,829.1 1046.5,829.3 1047.7,829.5 1048.9,829.8 1050.1,830.0 1051.3,830.2 1052.4,830.4 1053.6,830.6 1054.8,830.8 1056.0,831.0 1057.2,831.3 1058.4,831.5 1059.5,831.7 1060.7,831.9 1061.9,832.1 1063.1,832.3 1064.3,832.5 1065.4,832.7 1066.6,832.9 1067.8,833.2 1069.0,833.4 1070.2,833.6 1071.4,833.8 1072.5,834.0 1073.7,834.2 1074.9,834.4 1076.1,834.6 1077.3,834.8 1078.5,835.0 1079.7,835.2 1080.8,835.4 1082.0,835.6 1083.2,835.8 1084.4,836.0 1085.6,836.2 1086.8,836.4 1087.9,836.6 1089.1,836.8 1090.3,837.0"/>
<path stroke-width="2.6" d="M170.7,82.6 171.0,81.4 171.4,80.3 171.8,79.2 172.2,78.0 172.6,76.9 173.0,75.8 173.4,74.6 173.9,73.5 174.3,72.4 174.8,71.3 175.3,70.2 175.8,69.1 176.4,68.1 176.9,67.0M185.6,57.3 186.7,56.8 187.8,56.5M193.7,57.0 194.8,57.4 195.9,58.0M222.7,94.3 223.2,95.4 223.8,96.5 224.3,97.5 224.9,98.6 225.4,99.7 226.0,100.7 226.5,101.8 227.0,102.9 227.6,104.0 228.1,105.0 228.6,106.1 229.2,107.2 229.7,108.3 230.2,109.4 230.7,110.4 231.3,111.5 231.8,112.6 232.3,113.7 232.8,114.8 233.3,115.9 233.8,116.9 234.4,118.0 234.9,119.1 235.4,120.2 235.9,121.3 236.4,122.4 236.9,123.5 237.4,124.6 237.9,125.6 238.4,126.7 238.9,127.8 239.4,128.9 239.9,130.0 240.4,131.1 240.9,132.2 241.4,133.3 241.9,134.4 242.4,135.5 242.9,136.6 243.4,137.7 243.9,138.7 244.4,139.8 244.9,140.9 245.4,142.0 245.9,143.1 246.4,144.2 246.9,145.3 247.4,146.4 247.9,147.5 248.4,148.6 248.8,149.7 249.3,150.8 249.8,151.9 250.3,153.0 250.8,154.1 251.3,155.2 251.8,156.3 252.3,157.4 252.8,158.5 253.2,159.6 253.7,160.7 254.2,161.8 254.7,162.9 255.2,164.0 255.7,165.1 256.2,166.2 256.6,167.3 257.1,168.4 257.6,169.5 258.1,170.6 258.6,171.7 259.1,172.8 259.6,173.9 260.0,175.0 260.5,176.1 261.0,177.2 261.5,178.3 262.0,179.3 262.5,180.4 263.0,181.5 263.4,182.6 263.9,183.7 264.4,184.8 264.9,185.9 265.4,187.0 265.9,188.1 266.3,189.2 266.8,190.3 267.3,191.4 267.8,192.5 268.3,193.6 268.8,194.7 269.3,195.8 269.7,196.9 270.2,198.0 270.7,199.1 271.2,200.2 271.7,201.3 272.2,202.4 272.7,203.5 273.1,204.6 273.6,205.7 274.1,206.8 274.6,207.9 275.1,209.0 275.6,210.1 276.1,211.2 276.6,212.3 277.0,213.4 277.5,214.5 278.0,215.6 278.5,216.7 279.0,217.8 279.5,218.9 280.0,220.0 280.5,221.1 281.0,222.2 281.4,223.3 281.9,224.4 282.4,225.5 282.9,226.6 283.4,227.7 283.9,228.8 284.4,229.9 284.9,231.0 285.4,232.0 285.9,233.1 286.4,234.2 286.9,235.3 287.3,236.4 287.8,237.5 288.3,238.6 288.8,239.7 289.3,240.8 289.8,241.9 290.3,243.0 290.8,244.1 291.3,245.2 291.8,246.3 292.3,247.4 292.8,248.5 293.3,249.6 293.8,250.6 294.3,251.7 294.8,252.8 295.3,253.9 295.8,255.0 296.3,256.1 296.8,257.2 297.3,258.3 297.8,259.4 298.3,260.5 298.8,261.6 299.3,262.7 299.8,263.7 300.3,264.8 300.8,265.9 301.3,267.0 301.9,268.1 302.4,269.2 302.9,270.3 303.4,271.4 303.9,272.5 304.4,273.5 304.9,274.6 305.4,275.7 305.9,276.8 306.4,277.9 306.9,279.0 307.5,280.1 308.0,281.1 308.5,282.2 309.0,283.3 309.5,284.4 310.0,285.5 310.5,286.6 311.1,287.7 311.6,288.7 312.1,289.8 312.6,290.9 313.1,292.0 313.7,293.1 314.2,294.2 314.7,295.2 315.2,296.3 315.7,297.4 316.3,298.5 316.8,299.6 317.3,300.6 317.8,301.7 318.4,302.8 318.9,303.9 319.4,305.0 319.9,306.0 320.5,307.1 321.0,308.2 321.5,309.3 322.1,310.4 322.6,311.4 323.1,312.5 323.7,313.6 324.2,314.7 324.7,315.7 325.3,316.8 325.8,317.9 326.3,319.0 326.9,320.0 327.4,321.1 327.9,322.2 328.5,323.3 329.0,324.3 329.6,325.4 330.1,326.5 330.7,327.5 331.2,328.6 331.7,329.7 332.3,330.8 332.8,331.8 333.4,332.9 333.9,334.0 334.5,335.0 335.0,336.1 335.6,337.2 336.1,338.2 336.7,339.3 337.2,340.4 337.8,341.4 338.3,342.5 338.9,343.6 339.5,344.6 340.0,345.7M692.9,717.4 694.0,717.9 695.0,718.5 696.1,719.0 697.2,719.6 698.2,720.1 699.3,720.7 700.4,721.2 701.4,721.8 702.5,722.3 703.6,722.9 704.7,723.4 705.7,723.9 706.8,724.5 707.9,725.0 709.0,725.6 710.0,726.1 711.1,726.6 712.2,727.1 713.3,727.7 714.3,728.2 715.4,728.7 716.5,729.3 717.6,729.8 718.7,730.3 719.7,730.8 720.8,731.3 721.9,731.9 723.0,732.4 724.1,732.9 725.2,733.4 726.3,733.9 727.3,734.4 728.4,734.9 729.5,735.4 730.6,736.0 731.7,736.5 732.8,737.0 733.9,737.5 735.0,738.0 736.1,738.5 737.2,739.0 738.3,739.5 739.3,739.9 740.4,740.4 741.5,740.9 742.6,741.4 743.7,741.9 744.8,742.4 745.9,742.9 747.0,743.4 748.1,743.9 749.2,744.3 750.3,744.8 751.4,745.3 752.5,745.8 753.6,746.2 754.7,746.7 755.8,747.2 756.9,747.7 758.1,748.1 759.2,748.6 760.3,749.1 761.4,749.5 762.5,750.0 763.6,750.5 764.7,750.9 765.8,751.4 766.9,751.8 768.0,752.3 769.1,752.8 770.3,753.2 771.4,753.7 772.5,754.1 773.6,754.6 774.7,755.0 775.8,755.5 776.9,755.9 778.0,756.4 779.2,756.8 780.3,757.2 781.4,757.7 782.5,758.1 783.6,758.6 784.8,759.0 785.9,759.4 787.0,759.9 788.1,760.3 789.2,760.7 790.4,761.2 791.5,761.6 792.6,762.0 793.7,762.4 794.9,762.9 796.0,763.3 797.1,763.7 798.2,764.1 799.4,764.5 800.5,765.0 801.6,765.4 802.7,765.8 803.9,766.2 805.0,766.6 806.1,767.0 807.2,767.4 808.4,767.8 809.5,768.2 810.6,768.7 811.8,769.1 812.9,769.5 814.0,769.9 815.2,770.3 816.3,770.7 817.4,771.1 818.6,771.5 819.7,771.9 820.8,772.2 822.0,772.6 823.1,773.0 824.2,773.4 825.4,773.8 826.5,774.2 827.7,774.6 828.8,775.0 829.9,775.3 831.1,775.7 832.2,776.1 833.3,776.5 834.5,776.9 835.6,777.2 836.8,777.6 837.9,778.0 839.0,778.4 840.2,778.7 841.3,779.1 842.5,779.5 843.6,779.9 844.8,780.2 845.9,780.6 847.0,781.0 848.2,781.3 849.3,781.7 850.5,782.0 851.6,782.4 852.8,782.8 853.9,783.1 855.1,783.5 856.2,783.8 857.4,784.2 858.5,784.5"/>
<path stroke-width="2.8" d="M176.9,67.0 177.5,65.9 178.1,64.9 178.8,63.9 179.4,62.9 180.2,62.0 180.9,61.0 181.8,60.1 182.6,59.3 183.5,58.6 184.5,57.9 185.6,57.3M195.9,58.0 196.9,58.6 197.9,59.2 198.9,60.0 199.8,60.7 200.7,61.5 201.6,62.3 202.5,63.2 203.3,64.1 204.1,64.9 204.9,65.9 205.6,66.8 206.4,67.7 207.1,68.7 207.9,69.6 208.6,70.6 209.3,71.6 209.9,72.6 210.6,73.6 211.3,74.6 211.9,75.6 212.6,76.6 213.2,77.6 213.9,78.6 214.5,79.6 215.1,80.7 215.7,81.7 216.3,82.7 216.9,83.8 217.5,84.8 218.1,85.9 218.7,86.9 219.3,88.0 219.8,89.0 220.4,90.1 221.0,91.1 221.6,92.2 222.1,93.3 222.7,94.3M340.0,345.7 340.6,346.8 341.1,347.8 341.7,348.9 342.3,349.9 342.8,351.0 343.4,352.1 343.9,353.1 344.5,354.2 345.1,355.3 345.6,356.3 346.2,357.4 346.8,358.4 347.3,359.5 347.9,360.5 348.5,361.6 349.1,362.7 349.6,363.7 350.2,364.8 350.8,365.8 351.4,366.9 351.9,367.9 352.5,369.0 353.1,370.0 353.7,371.1 354.2,372.1 354.8,373.2 355.4,374.2 356.0,375.3 356.6,376.3 357.2,377.4 357.7,378.4 358.3,379.5 358.9,380.5 359.5,381.6 360.1,382.6 360.7,383.7 361.3,384.7 361.9,385.8 362.5,386.8 363.1,387.9 363.6,388.9 364.2,389.9 364.8,391.0 365.4,392.0 366.0,393.1 366.6,394.1 367.2,395.1 367.8,396.2 368.4,397.2 369.0,398.3 369.7,399.3 370.3,400.3 370.9,401.4 371.5,402.4 372.1,403.4 372.7,404.5 373.3,405.5 373.9,406.6 374.5,407.6 375.1,408.6 375.8,409.6 376.4,410.7 377.0,411.7 377.6,412.7 378.2,413.8 378.9,414.8 379.5,415.8 380.1,416.8 380.7,417.9 381.3,418.9 382.0,419.9 382.6,421.0 383.2,422.0 383.9,423.0 384.5,424.0 385.1,425.0 385.8,426.1 386.4,427.1 387.0,428.1 387.7,429.1 388.3,430.1 388.9,431.2 389.6,432.2 390.2,433.2 390.9,434.2 391.5,435.2 392.1,436.2 392.8,437.3 393.4,438.3 394.1,439.3 394.7,440.3 395.4,441.3 396.0,442.3 396.7,443.3 397.3,444.3 398.0,445.3 398.6,446.3 399.3,447.3 400.0,448.3 400.6,449.4 401.3,450.4 401.9,451.4 402.6,452.4 403.3,453.4 403.9,454.4 404.6,455.4 405.3,456.4 405.9,457.4 406.6,458.4 407.3,459.4 407.9,460.3 408.6,461.3 409.3,462.3 410.0,463.3 410.6,464.3 411.3,465.3 412.0,466.3 412.7,467.3 413.4,468.3 414.0,469.3 414.7,470.3 415.4,471.2 416.1,472.2 416.8,473.2 417.5,474.2 418.2,475.2 418.9,476.2 419.6,477.1 420.2,478.1 420.9,479.1 421.6,480.1 422.3,481.1 423.0,482.0 423.7,483.0 424.4,484.0 425.1,485.0 425.8,485.9 426.5,486.9 427.3,487.9 428.0,488.9 428.7,489.8 429.4,490.8 430.1,491.8 430.8,492.7 431.5,493.7 432.2,494.7 433.0,495.6 433.7,496.6 434.4,497.5 435.1,498.5 435.8,499.5 436.6,500.4 437.3,501.4 438.0,502.3 438.7,503.3 439.5,504.2 440.2,505.2 440.9,506.2 441.7,507.1 442.4,508.1 443.1,509.0 443.9,510.0 444.6,510.9 445.3,511.9 446.1,512.8 446.8,513.7 447.6,514.7 448.3,515.6 449.0,516.6 449.8,517.5 450.5,518.5 451.3,519.4 452.0,520.3 452.8,521.3 453.5,522.2 454.3,523.1 455.1,524.1 455.8,525.0 456.6,525.9 457.3,526.9 458.1,527.8 458.9,528.7 459.6,529.6 460.4,530.6 461.2,531.5 461.9,532.4 462.7,533.3 463.5,534.3 464.2,535.2 465.0,536.1 465.8,537.0 466.6,537.9 467.3,538.9 468.1,539.8 468.9,540.7 469.7,541.6 470.5,542.5 471.2,543.4 472.0,544.3 472.8,545.2 473.6,546.1 474.4,547.0 475.2,547.9 476.0,548.8 476.8,549.7 477.6,550.6 478.4,551.5 479.2,552.4 480.0,553.3 480.8,554.2 481.6,555.1 482.4,556.0 483.2,556.9 484.0,557.8 484.8,558.7 485.6,559.6 486.4,560.5 487.2,561.3 488.0,562.2 488.9,563.1 489.7,564.0 490.5,564.9 491.3,565.7 492.1,566.6 493.0,567.5 493.8,568.4 494.6,569.2 495.4,570.1 496.3,571.0 497.1,571.9 497.9,572.7 498.8,573.6 499.6,574.4 500.4,575.3 501.3,576.2 502.1,577.0 503.0,577.9 503.8,578.7 504.6,579.6 505.5,580.5 506.3,581.3 507.2,582.2 508.0,583.0 508.9,583.9 509.7,584.7 510.6,585.5 511.4,586.4 512.3,587.2 513.1,588.1 514.0,588.9 514.9,589.8 515.7,590.6 516.6,591.4 517.5,592.3 518.3,593.1 519.2,593.9 520.1,594.8 520.9,595.6 521.8,596.4 522.7,597.2 523.5,598.1 524.4,598.9 525.3,599.7 526.2,600.5 527.1,601.3 527.9,602.2 528.8,603.0 529.7,603.8 530.6,604.6 531.5,605.4 532.4,606.2 533.3,607.0 534.2,607.8 535.0,608.6 535.9,609.4 536.8,610.2 537.7,611.0 538.6,611.8 539.5,612.6 540.4,613.4 541.3,614.2 542.2,615.0 543.1,615.8 544.0,616.6 545.0,617.4 545.9,618.2 546.8,618.9 547.7,619.7 548.6,620.5 549.5,621.3 550.4,622.1 551.3,622.8 552.3,623.6 553.2,624.4 554.1,625.2 555.0,625.9 555.9,626.7 556.9,627.5 557.8,628.2 558.7,629.0 559.6,629.7 560.6,630.5 561.5,631.3 562.4,632.0 563.4,632.8 564.3,633.5 565.2,634.3 566.2,635.0 567.1,635.8 568.1,636.5 569.0,637.3 569.9,638.0 570.9,638.8 571.8,639.5 572.8,640.3 573.7,641.0 574.7,641.7 575.6,642.5 576.6,643.2 577.5,643.9 578.5,644.7 579.4,645.4 580.4,646.1 581.3,646.9 582.3,647.6 583.3,648.3 584.2,649.0 585.2,649.7 586.1,650.5 587.1,651.2 588.1,651.9 589.0,652.6 590.0,653.3 591.0,654.0 591.9,654.7 592.9,655.5 593.9,656.2 594.9,656.9 595.8,657.6 596.8,658.3 597.8,659.0 598.8,659.7 599.7,660.4 600.7,661.1 601.7,661.8 602.7,662.4 603.7,663.1 604.6,663.8 605.6,664.5 606.6,665.2 607.6,665.9 608.6,666.6 609.6,667.2 610.6,667.9 611.6,668.6 612.6,669.3 613.5,670.0 614.5,670.6 615.5,671.3 616.5,672.0 617.5,672.6 618.5,673.3 619.5,674.0 620.5,674.6 621.5,675.3 622.5,676.0 623.5,676.6 624.5,677.3 625.5,677.9 626.6,678.6 627.6,679.2 628.6,679.9 629.6,680.6 630.6,681.2 631.6,681.8 632.6,682.5 633.6,683.1 634.6,683.8 635.7,684.4 636.7,685.1 637.7,685.7 638.7,686.3 639.7,687.0 640.7,687.6 641.8,688.2 642.8,688.9 643.8,689.5 644.8,690.1 645.9,690.8 646.9,691.4 647.9,692.0 648.9,692.6 650.0,693.2 651.0,693.9 652.0,694.5 653.1,695.1 654.1,695.7 655.1,696.3 656.2,696.9 657.2,697.5 658.2,698.2 659.3,698.8 660.3,699.4 661.3,700.0 662.4,700.6 663.4,701.2 664.5,701.8 665.5,702.4 666.6,703.0 667.6,703.6 668.6,704.1 669.7,704.7 670.7,705.3 671.8,705.9 672.8,706.5 673.9,707.1 674.9,707.7 676.0,708.3 677.0,708.8 678.1,709.4 679.1,710.0 680.2,710.6 681.2,711.1 682.3,711.7 683.4,712.3 684.4,712.9 685.5,713.4 686.5,714.0 687.6,714.6 688.7,715.1 689.7,715.7 690.8,716.2 691.8,716.8 692.9,717.4"/>
</g>
</g>
<defs><filter id="bin" color-interpolation-filters="sRGB"><feComponentTransfer><feFuncA type="discrete" tableValues="0 1"/></feComponentTransfer></filter>
<mask id="foot" maskUnits="userSpaceOnUse" x="0" y="0" width="1322" height="1068"><rect x="0" y="0" width="1322" height="1068" fill="#fff"/><g fill="#000"><rect x="194.03" y="982.33" width="7.04" height="4.17"/><rect x="204.16" y="982.33" width="6.76" height="4.17"/><rect x="698.30" y="982.33" width="7.04" height="4.17"/><rect x="708.43" y="982.33" width="6.76" height="4.17"/><rect x="755.30" y="982.33" width="7.04" height="4.17"/><rect x="765.43" y="982.33" width="6.76" height="4.17"/><rect x="774.76" y="982.33" width="7.04" height="4.17"/><rect x="784.89" y="982.33" width="6.76" height="4.17"/><rect x="812.30" y="982.33" width="7.04" height="4.17"/><rect x="822.43" y="982.33" width="6.76" height="4.17"/><rect x="869.30" y="982.33" width="7.04" height="4.17"/><rect x="879.43" y="982.33" width="6.76" height="4.17"/><rect x="927.30" y="982.33" width="7.04" height="4.17"/><rect x="937.43" y="982.33" width="6.76" height="4.17"/><rect x="984.30" y="982.33" width="7.04" height="4.17"/><rect x="994.43" y="982.33" width="6.76" height="4.17"/><rect x="1041.30" y="982.33" width="7.04" height="4.17"/><rect x="1051.43" y="982.33" width="6.76" height="4.17"/><rect x="1098.30" y="982.33" width="7.04" height="4.17"/><rect x="1108.43" y="982.33" width="6.76" height="4.17"/><rect x="1155.30" y="982.33" width="7.04" height="4.17"/><rect x="1165.43" y="982.33" width="6.76" height="4.17"/><rect x="1212.30" y="982.33" width="7.04" height="4.17"/><rect x="1222.43" y="982.33" width="6.76" height="4.17"/><rect x="70.77" y="344.53" width="7.04" height="4.17"/><rect x="80.90" y="344.53" width="6.76" height="4.17"/><rect x="70.77" y="644.33" width="7.04" height="4.17"/><rect x="80.90" y="644.33" width="6.76" height="4.17"/><rect x="1188.67" y="192.05" width="6.41" height="3.85"/><rect x="1197.87" y="192.05" width="6.17" height="3.85"/></g></mask></defs>
<rect x="1026" y="68" width="226" height="139" fill="#fff" stroke="#262626" stroke-width="2" shape-rendering="crispEdges"/>
<rect x="1036" y="94" width="80" height="2" fill="#0072BD" shape-rendering="crispEdges"/>
<rect x="1036" y="137" width="80" height="2" fill="#D95319" shape-rendering="crispEdges"/>
<rect x="1036" y="180" width="80" height="2" fill="#EDB120" shape-rendering="crispEdges"/>
<g filter="url(#bin)"><g mask="url(#foot)">
<g fill="#262626" font-size="35" text-anchor="middle">
<text transform="translate(144,985.6) scale(1,1.02)">0</text>
<text transform="translate(202,985.6) scale(1,1.02)">1</text>
<text transform="translate(259,985.6) scale(1,1.02)">2</text>
<text transform="translate(316,985.6) scale(1,1.02)">3</text>
<text transform="translate(373,985.6) scale(1,1.02)">4</text>
<text transform="translate(430,985.6) scale(1,1.02)">5</text>
<text transform="translate(487,985.6) scale(1,1.02)">6</text>
<text transform="translate(544,985.6) scale(1,1.02)">7</text>
<text transform="translate(602,985.6) scale(1,1.02)">8</text>
<text transform="translate(659,985.6) scale(1,1.02)">9</text>
<text transform="translate(716,985.6) scale(1,1.02)">10</text>
<text transform="translate(773,985.6) scale(1,1.02)">11</text>
<text transform="translate(830,985.6) scale(1,1.02)">12</text>
<text transform="translate(887,985.6) scale(1,1.02)">13</text>
<text transform="translate(945,985.6) scale(1,1.02)">14</text>
<text transform="translate(1002,985.6) scale(1,1.02)">15</text>
<text transform="translate(1059,985.6) scale(1,1.02)">16</text>
<text transform="translate(1116,985.6) scale(1,1.02)">17</text>
<text transform="translate(1173,985.6) scale(1,1.02)">18</text>
<text transform="translate(1230,985.6) scale(1,1.02)">19</text>
<text transform="translate(1287,985.6) scale(1,1.02)">20</text>
</g>
<g fill="#262626" font-size="35" text-anchor="end">
<text transform="translate(127.4,47.1) scale(1,1.02)">200</text>
<text transform="translate(127.4,347.8) scale(1,1.02)">150</text>
<text transform="translate(127.4,647.6) scale(1,1.02)">100</text>
<text transform="translate(129.3,948.5) scale(1,1.02)">50</text>
</g>
<text fill="#262626" font-size="38.5" transform="translate(623.2,1037.7) scale(1,1.043)">Time(year)</text>
<text fill="#262626" font-size="38.5" transform="translate(49.9,682.5) rotate(-90) scale(1,1.043)">The number of R nodes</text>
<text transform="translate(1123.8,106) scale(1.13,1)" font-size="31.5" fill="#000" stroke="#000" stroke-width="0.7" style="font-family:'Liberation Serif',serif" font-style="italic">&#946;</text>
<text x="1142.5" y="106" font-size="31.5" fill="#000">=0.002</text>
<text transform="translate(1123.8,151) scale(1.13,1)" font-size="31.5" fill="#000" stroke="#000" stroke-width="0.7" style="font-family:'Liberation Serif',serif" font-style="italic">&#946;</text>
<text x="1142.5" y="151" font-size="31.5" fill="#000">=0.3</text>
<text transform="translate(1123.8,195) scale(1.13,1)" font-size="31.5" fill="#000" stroke="#000" stroke-width="0.7" style="font-family:'Liberation Serif',serif" font-style="italic">&#946;</text>
<text x="1142.5" y="195" font-size="31.5" fill="#000">=0.13</text>
</g></g>
</svg>
</body></html>
